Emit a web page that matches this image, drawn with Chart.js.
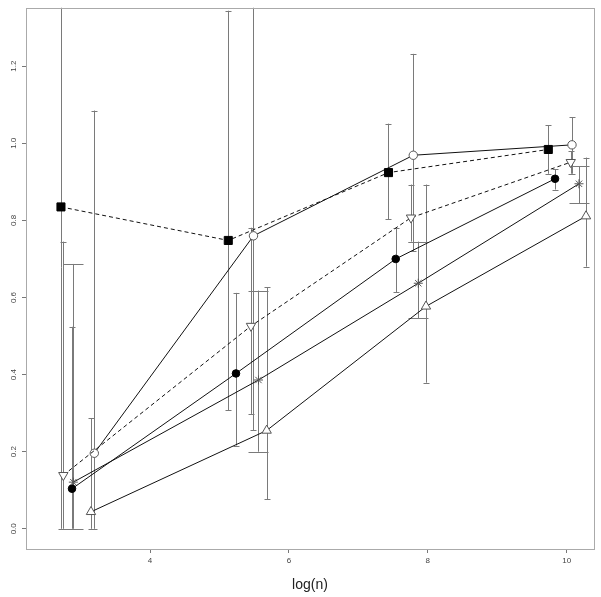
<!DOCTYPE html>
<html>
<head>
<meta charset="utf-8">
<script src="https://cdn.jsdelivr.net/npm/chart.js@4/dist/chart.umd.min.js"></script>
<style>
  html, body { margin: 0; padding: 0; background: #fff; }
  #wrap { width: 601px; height: 597px; }
</style>
</head>
<body>
<div id="wrap"><canvas id="chart"></canvas></div>
<script>
// values: x = log(n), y = estimate, lo/hi = error bar ends
const squareX = [2.718, 5.127, 7.434, 9.735];
const squareY = [0.835, 0.748, 0.924, 0.984];
const squareLo = [0, 0.308, 0.803, 0.921];
const squareHi = [1.6, 1.344, 1.051, 1.047];

const downTriX = [2.752, 5.454, 7.758, 10.058];
const downTriY = [0.139, 0.526, 0.807, 0.951];
const downTriLo = [0, 0.298, 0.745, 0.921];
const downTriHi = [0.745, 0.781, 0.893, 0.979];

const dotX = [2.877, 5.238, 7.538, 9.832];
const dotY = [0.104, 0.403, 0.700, 0.908];
const dotLo = [0, 0.216, 0.614, 0.880];
const dotHi = [0.524, 0.612, 0.781, 0.933];

const starX = [2.896, 5.562, 7.863, 10.177];
const starY = [0.121, 0.386, 0.637, 0.895];
const starLo = [0, 0.200, 0.546, 0.844];
const starHi = [0.687, 0.618, 0.745, 0.941];

const upTriX = [3.150, 5.680, 7.974, 10.278];
const upTriY = [0.044, 0.255, 0.577, 0.811];
const upTriLo = [0, 0.077, 0.379, 0.680];
const upTriHi = [0.287, 0.626, 0.893, 0.963];

const ringX = [3.198, 5.490, 7.791, 10.076];
const ringY = [0.196, 0.760, 0.969, 0.996];
const ringLo = [0, 0.255, 0.720, 0.921];
const ringHi = [1.085, 1.6, 1.232, 1.068];

const xTicks = [4, 6, 8, 10];
const yTicks = [0, 0.2, 0.4, 0.6, 0.8, 1.0, 1.2];

function pts(xs, ys) {
    return xs.map((x, i) => ({x: x, y: ys[i]}));
}

function series(xs, ys, lo, hi, extra) {
    return Object.assign({
        data: pts(xs, ys),
        errLow: lo,
        errHigh: hi,
        capHalf: 3,
        borderColor: '#111',
        borderWidth: 1,
        pointBorderWidth: 1,
        pointHoverRadius: 0,
        tension: 0,
        fill: false
    }, extra);
}

// vertical error bars with small caps, drawn under the lines and markers
const errorBars = {
    id: 'errorBars',
    beforeDatasetsDraw(chart) {
        const {ctx, chartArea, scales: {x, y}} = chart;
        ctx.save();
        ctx.beginPath();
        ctx.rect(chartArea.left, chartArea.top, chartArea.right - chartArea.left, chartArea.bottom - chartArea.top);
        ctx.clip();
        ctx.strokeStyle = '#7a7a7a';
        ctx.lineWidth = 1;
        chart.data.datasets.forEach(ds => {
            ds.data.forEach((p, i) => {
                const px = Math.round(x.getPixelForValue(p.x)) + 0.5;
                const top = y.getPixelForValue(ds.errHigh[i]);
                const bot = y.getPixelForValue(ds.errLow[i]);
                const w = ds.capHalf;
                ctx.beginPath();
                ctx.moveTo(px, top);
                ctx.lineTo(px, bot);
                ctx.moveTo(px - w, Math.round(top) + 0.5);
                ctx.lineTo(px + w, Math.round(top) + 0.5);
                ctx.moveTo(px - w, Math.round(bot) + 0.5);
                ctx.lineTo(px + w, Math.round(bot) + 0.5);
                ctx.stroke();
            });
        });
        ctx.restore();
    }
};

const plotBox = {
    id: 'plotBox',
    afterDraw(chart) {
        const {ctx, chartArea} = chart;
        ctx.save();
        ctx.strokeStyle = '#aaa';
        ctx.lineWidth = 1;
        ctx.strokeRect(Math.round(chartArea.left) + 0.5, Math.round(chartArea.top) + 0.5,
            Math.round(chartArea.right - chartArea.left), Math.round(chartArea.bottom - chartArea.top));
        ctx.restore();
    }
};

new Chart(document.getElementById('chart'), {
    type: 'line',
    data: {
        datasets: [
            series(squareX, squareY, squareLo, squareHi, {
                borderDash: [4, 3], pointStyle: 'rect', pointRadius: 5.7,
                pointBackgroundColor: '#000', pointBorderColor: '#000'
            }),
            series(downTriX, downTriY, downTriLo, downTriHi, {
                borderDash: [4, 3], pointStyle: 'triangle', pointRotation: 180, pointRadius: 5.4,
                pointBackgroundColor: '#fff', pointBorderColor: '#555'
            }),
            series(dotX, dotY, dotLo, dotHi, {
                pointStyle: 'circle', pointRadius: 3.8,
                pointBackgroundColor: '#000', pointBorderColor: '#000'
            }),
            series(starX, starY, starLo, starHi, {
                capHalf: 10, pointStyle: 'star', pointRadius: 4.5,
                pointBackgroundColor: '#fff', pointBorderColor: '#555'
            }),
            series(upTriX, upTriY, upTriLo, upTriHi, {
                pointStyle: 'triangle', pointRadius: 5.4,
                pointBackgroundColor: '#fff', pointBorderColor: '#555'
            }),
            series(ringX, ringY, ringLo, ringHi, {
                pointStyle: 'circle', pointRadius: 4.2,
                pointBackgroundColor: '#fff', pointBorderColor: '#555'
            })
        ]
    },
    options: {
        responsive: true,
        maintainAspectRatio: false,
        animation: false,
        layout: { padding: { top: 5, right: 7, left: 0, bottom: 0 } },
        plugins: {
            legend: { display: false },
            tooltip: { enabled: false }
        },
        scales: {
            x: {
                type: 'linear',
                min: 2.2145,
                max: 10.393,
                afterBuildTicks: scale => { scale.ticks = xTicks.map(v => ({value: v})); },
                afterFit: scale => { scale.height = 48; },
                grid: { drawOnChartArea: false, tickLength: 4, tickColor: '#777' },
                border: { display: false },
                ticks: {
                    padding: 3,
                    color: '#444',
                    font: { family: 'Liberation Sans', size: 8 },
                    callback: v => String(v)
                },
                title: {
                    display: true,
                    text: 'log(n)',
                    color: '#222',
                    font: { family: 'Liberation Sans', size: 14 },
                    padding: { top: 0, bottom: 3 }
                }
            },
            y: {
                min: -0.0524,
                max: 1.3515,
                afterBuildTicks: scale => { scale.ticks = yTicks.map(v => ({value: v})); },
                afterFit: scale => { scale.width = 26; },
                grid: { drawOnChartArea: false, tickLength: 4, tickColor: '#777' },
                border: { display: false },
                ticks: {
                    padding: 3,
                    minRotation: 90,
                    maxRotation: 90,
                    crossAlign: 'center',
                    color: '#444',
                    font: { family: 'Liberation Sans', size: 8 },
                    callback: v => v.toFixed(1)
                }
            }
        }
    },
    plugins: [errorBars, plotBox]
});
</script>
</body>
</html>
